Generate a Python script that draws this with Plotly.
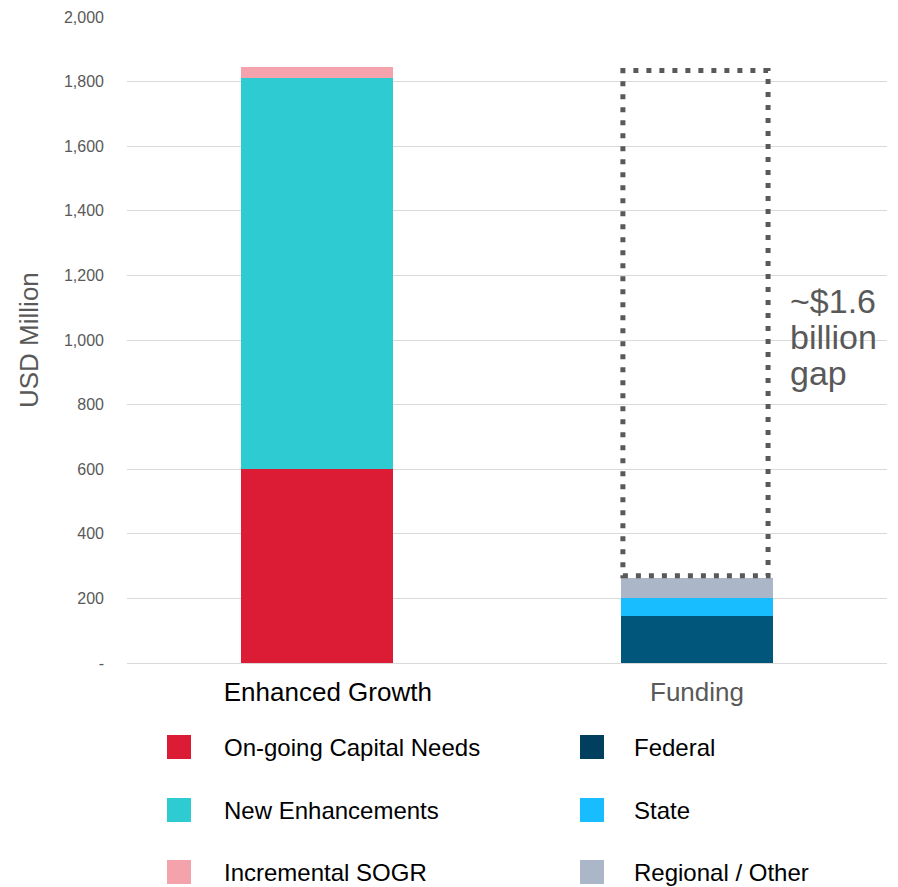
import plotly.graph_objects as go

# ---------------- data ----------------
categories = ["Enhanced Growth", "Funding"]
category_colors = ["#000000", "#595959"]
category_pad = ["&nbsp;&nbsp;&nbsp;", ""]

need_series = ["On-going Capital Needs", "New Enhancements", "Incremental SOGR"]
need_values = [600, 1212, 32]
need_colors = ["#DC1C34", "#2ECCD2", "#F4A3AC"]

fund_series = ["Federal", "State", "Regional / Other"]
fund_values = [146, 56, 60]
fund_colors = ["#01577B", "#17BDFF", "#ABB6C9"]
fund_legend_colors = ["#003F5E", "#17BDFF", "#ABB6C9"]

gap_box_low = 270
gap_box_high = 1834
gap_lines = ["~$1.6", "billion", "gap"]

y_tickvals = [0, 200, 400, 600, 800, 1000, 1200, 1400, 1600, 1800, 2000]
y_ticktext = ["-", "200", "400", "600", "800", "1,000", "1,200", "1,400", "1,600", "1,800", "2,000"]

# ---------------- layout constants ----------------
W, H = 898, 887
ML, MR, MT, MB = 127, 11, 17, 224
PW, PH = W - ML - MR, H - MT - MB
FONT = "Liberation Sans, Arial, sans-serif"
GRAY = "#595959"


def px_x(p):
    return (p - ML) / PW


def px_y(p):
    return (H - MB - p) / PH


fig = go.Figure()

for name, val, col in zip(need_series, need_values, need_colors):
    fig.add_trace(go.Bar(x=[categories[0]], y=[val], name=name, marker_color=col,
                         marker_line_width=0, showlegend=False))
for name, val, col in zip(fund_series, fund_values, fund_colors):
    fig.add_trace(go.Bar(x=[categories[1]], y=[val], name=name, marker_color=col,
                         marker_line_width=0, showlegend=False))

shapes = []
annotations = []

# dotted gap box around the funding bar
shapes.append(dict(type="rect", xref="x", yref="y", x0=0.805, x1=1.187,
                   y0=gap_box_low, y1=gap_box_high,
                   line=dict(color=GRAY, width=5, dash="5px,8px"), layer="above"))

# gap label
for i, (line, py) in enumerate(zip(gap_lines, [301, 337, 373])):
    annotations.append(dict(text=line, xref="paper", yref="paper", x=px_x(788), y=px_y(py),
                            xanchor="left", yanchor="middle", showarrow=False,
                            font=dict(family=FONT, size=34, color=GRAY)))

# y-axis title
annotations.append(dict(text="USD Million", xref="paper", yref="paper", x=px_x(29), y=0.5,
                        xanchor="center", yanchor="middle", textangle=-90, showarrow=False,
                        font=dict(family=FONT, size=26, color=GRAY)))

# manual legend
rows_y = [747, 810, 872]
for col_idx, (names, colors) in enumerate([(need_series, need_colors),
                                           (fund_series, fund_legend_colors)]):
    sq_x = [167, 580][col_idx]
    tx_x = [222, 632][col_idx]
    for name, c, ry in zip(names, colors, rows_y):
        shapes.append(dict(type="rect", xref="paper", yref="paper",
                           x0=px_x(sq_x), x1=px_x(sq_x + 24),
                           y0=px_y(ry + 12), y1=px_y(ry - 12),
                           fillcolor=c, line=dict(width=0)))
        annotations.append(dict(text=name, xref="paper", yref="paper", x=px_x(tx_x), y=px_y(ry),
                                xanchor="left", yanchor="middle", showarrow=False,
                                font=dict(family=FONT, size=24, color="#000000")))

fig.update_layout(
    width=W, height=H,
    margin=dict(l=ML, r=MR, t=MT, b=MB, autoexpand=False),
    barmode="stack", bargap=0.6,
    plot_bgcolor="white", paper_bgcolor="white",
    font=dict(family=FONT, color=GRAY),
    showlegend=False,
    shapes=shapes, annotations=annotations,
    xaxis=dict(
        type="category", categoryorder="array", categoryarray=categories,
        tickvals=categories,
        ticktext=[f"{p}<span style='color:{c}'>{t}</span>"
                  for t, c, p in zip(categories, category_colors, category_pad)],
        tickfont=dict(family=FONT, size=26, color=GRAY),
        showgrid=False, showline=False, zeroline=False, ticks="",
        ticklabelstandoff=11, fixedrange=True,
    ),
    yaxis=dict(
        range=[0, 2000], tickvals=y_tickvals, ticktext=y_ticktext,
        tickfont=dict(family=FONT, size=16, color=GRAY),
        showgrid=True, gridcolor="#D9D9D9", gridwidth=1,
        zeroline=True, zerolinecolor="#D9D9D9", zerolinewidth=1,
        showline=False, ticks="", ticklabelstandoff=22, fixedrange=True,
    ),
)

fig.write_html("out.html", config={"displayModeBar": False},
               post_script="document.body.style.margin='0';document.body.style.overflow='hidden';")
